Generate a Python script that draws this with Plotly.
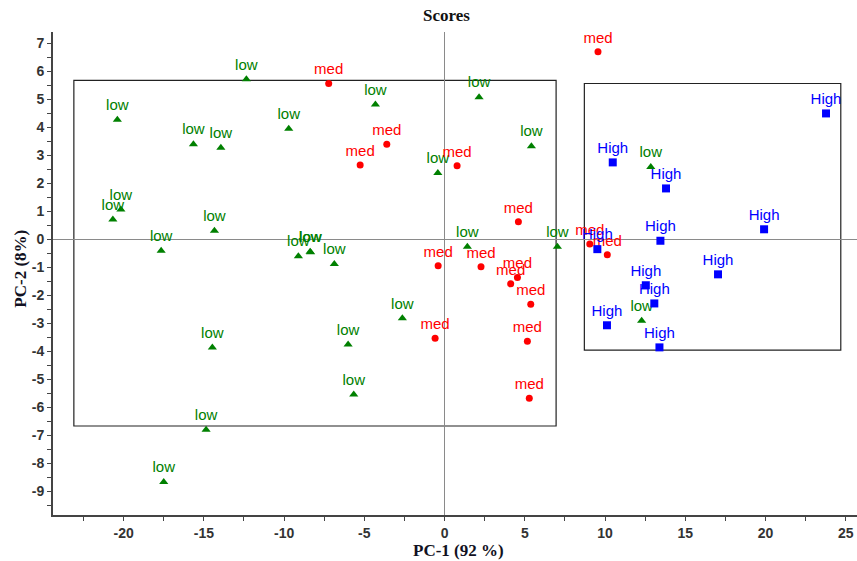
import plotly.graph_objects as go

# ---- data (PC-1, PC-2 scores) ----
low_x = [-12.35, -20.39, -15.65, -13.94, -9.71, -20.67, -20.17, -17.66, -14.34, -9.11,
         -8.38, -8.35, -6.87, -4.31, 2.15, 5.41, -0.42, 1.42, 7.03, 12.85, 12.28,
         -2.63, -6.01, -5.66, -14.47, -14.86, -17.50]
low_y = [5.72, 4.27, 3.40, 3.27, 3.95, 0.71, 1.07, -0.41, 0.31, -0.60,
         -0.44, -0.46, -0.88, 4.82, 5.08, 3.33, 2.37, -0.26, -0.26, 2.59, -2.91,
         -2.82, -3.76, -5.54, -3.86, -6.80, -8.67]

med_x = [-7.22, -3.60, -5.26, 0.78, 4.60, -0.40, 2.27, 4.54, 4.12, 5.37, 5.16, 5.28,
         -0.59, 9.56, 9.05, 10.14]
med_y = [5.57, 3.40, 2.66, 2.63, 0.63, -0.94, -0.98, -1.36, -1.59, -2.32, -3.64, -5.68,
         -3.53, 6.70, -0.17, -0.55]

high_x = [23.77, 10.48, 13.80, 19.91, 13.45, 9.52, 17.04, 12.54, 13.07, 10.12, 13.39]
high_y = [4.50, 2.75, 1.82, 0.36, -0.05, -0.35, -1.25, -1.64, -2.29, -3.07, -3.86]

# group boxes: (x0, y0, x1, y1)
box_low_med = [-23.1, -6.67, 6.95, 5.68]
box_high = [8.71, -3.96, 24.69, 5.57]

x_ticks = [-20, -15, -10, -5, 0, 5, 10, 15, 20, 25]
y_ticks = [-9, -8, -7, -6, -5, -4, -3, -2, -1, 0, 1, 2, 3, 4, 5, 6, 7]

SANS = "Liberation Sans, Arial, sans-serif"
SERIF = "Liberation Serif, Times New Roman, serif"

fig = go.Figure()

def add_group(xs, ys, name, color, symbol, size):
    fig.add_trace(go.Scatter(
        x=xs, y=ys, mode="markers+text", text=[name] * len(xs),
        textposition="top center",
        textfont=dict(family=SANS, size=15, color=color),
        marker=dict(color=color, symbol=symbol, size=size, line=dict(width=0)),
        showlegend=False, cliponaxis=False,
    ))

add_group(low_x, low_y, "low", "#008000", "triangle-up", 8)
add_group(med_x, med_y, "med", "#ff0000", "circle", 7)
add_group(high_x, high_y, "High", "#0000ff", "square", 8)

for b in (box_low_med, box_high):
    fig.add_shape(type="rect", xref="x", yref="y", x0=b[0], y0=b[1], x1=b[2], y1=b[3],
                  line=dict(color="#222222", width=1.2), layer="below")

axis_common = dict(
    showgrid=False, showline=True, linecolor="#444444", linewidth=2,
    ticks="outside", ticklen=4, tickwidth=1, tickcolor="#444444",
    tickfont=dict(family=SANS, size=14, color="#333333", weight="bold"),
    zeroline=True, zerolinecolor="#8a8a8a", zerolinewidth=1,
)

fig.update_xaxes(range=[-24.4, 25.7], tickvals=x_ticks, ticktext=[str(v) for v in x_ticks],
                 minor=dict(ticks="outside", ticklen=4, dtick=2.5, tick0=0, tickcolor="#444444"),
                 **axis_common)
fig.update_yaxes(range=[-9.85, 7.41], tickvals=y_ticks, ticktext=[str(v) for v in y_ticks],
                 minor=dict(ticks="outside", ticklen=4, dtick=0.5, tick0=0, tickcolor="#444444"),
                 **axis_common)

fig.update_layout(
    width=857, height=561,
    margin=dict(l=53, r=0, t=32, b=46),
    paper_bgcolor="white", plot_bgcolor="white",
    annotations=[
        dict(text="<b>Scores</b>", xref="paper", yref="paper", x=0.49, y=1.0, yshift=17,
             showarrow=False, xanchor="center", yanchor="middle",
             font=dict(family=SERIF, size=17, color="#111111")),
        dict(text="<b>PC-1 (92 %)</b>", xref="paper", yref="paper", x=0.504, y=0, yshift=-35,
             showarrow=False, xanchor="center", yanchor="middle",
             font=dict(family=SERIF, size=17, color="#111122")),
        dict(text="<b>PC-2 (8%)</b>", xref="paper", yref="paper", x=0, xshift=-32, y=0.51,
             showarrow=False, xanchor="center", yanchor="middle", textangle=-90,
             font=dict(family=SERIF, size=17, color="#111122")),
    ],
)

fig.write_html("out.html")
